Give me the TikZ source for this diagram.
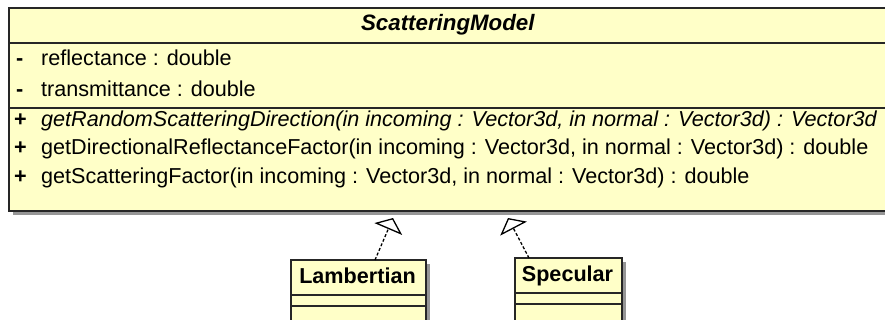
\documentclass[tikz,border=0pt]{standalone}
\usepackage{fontspec}
\setmainfont{Liberation Sans}
\usetikzlibrary{arrows.meta}
\definecolor{classfill}{RGB}{255,255,200}
\definecolor{shadowgray}{RGB}{150,150,150}

\tikzset{
  classbox/.style={draw=black!85, line width=1.3pt, fill=classfill},
  boxshadow/.style={fill=shadowgray},
  sepline/.style={draw=black!85, line width=1.3pt},
  member/.style={anchor=base west, inner sep=0pt, font=\fontsize{21.6}{25}\selectfont},
  realize/.style={dash pattern=on 3pt off 2pt, line width=1.3pt,
    -{Triangle[open, length=12pt, width=30pt, line width=1.3pt]}}
}

\begin{document}
\begin{tikzpicture}[x=1pt, y=-1pt]
  \useasboundingbox (0,0) rectangle (885,320);

  % ScatteringModel
  \coordinate (M1) at (9,8);
  \coordinate (M2) at (887,211);
  \fill[boxshadow] (13,12) rectangle (891,215);
  \draw[classbox] (M1) rectangle (M2);
  \draw[sepline] (9,43) -- (887,43);
  \draw[sepline] (9,108) -- (887,108);

  \node[member, anchor=base, font=\fontsize{22.3}{26}\selectfont] (title) at (448,31) {\textbf{\textit{ScatteringModel}}};

  \node[member] (vis1) at (16,66) {\textbf{-}};
  \node[member] (att1) at (41,66) {reflectance : double};
  \node[member] (vis2) at (16,97) {\textbf{-}};
  \node[member] (att2) at (41,97) {transmittance : double};

  \node[member] (vis3) at (14,127) {\textbf{+}};
  \node[member] (op1) at (41,127) {\itshape getRandomScatteringDirection(in incoming : Vector3d, in normal : Vector3d) : Vector3d};
  \node[member] (vis4) at (14,155) {\textbf{+}};
  \node[member] (op2) at (41,155) {getDirectionalReflectanceFactor(in incoming : Vector3d, in normal : Vector3d) : double};
  \node[member] (vis5) at (14,184) {\textbf{+}};
  \node[member] (op3) at (41,184) {getScatteringFactor(in incoming : Vector3d, in normal : Vector3d) : double};

  % Lambertian
  \fill[boxshadow] (295,264) rectangle (430,334);
  \draw[classbox] (291,260) rectangle (426,330);
  \draw[sepline] (291,295) -- (426,295);
  \draw[sepline] (291,306) -- (426,306);
  \node[member, anchor=base] (lamb) at (357.5,283) {\textbf{Lambertian}};

  % Specular
  \fill[boxshadow] (519,262) rectangle (626,334);
  \draw[classbox] (515,258) rectangle (622,330);
  \draw[sepline] (515,293) -- (622,293);
  \draw[sepline] (515,304) -- (622,304);
  \node[member, anchor=base] (spec) at (567.5,281) {\textbf{Specular}};

  % Realisierungen
  \coordinate (lambTop) at (375,260);
  \coordinate (lambTip) at (393,218);
  \coordinate (specTop) at (529,258);
  \coordinate (specTip) at (508,218);
  \draw[realize] (lambTop) -- (lambTip);
  \draw[realize] (specTop) -- (specTip);
\end{tikzpicture}
\end{document}
